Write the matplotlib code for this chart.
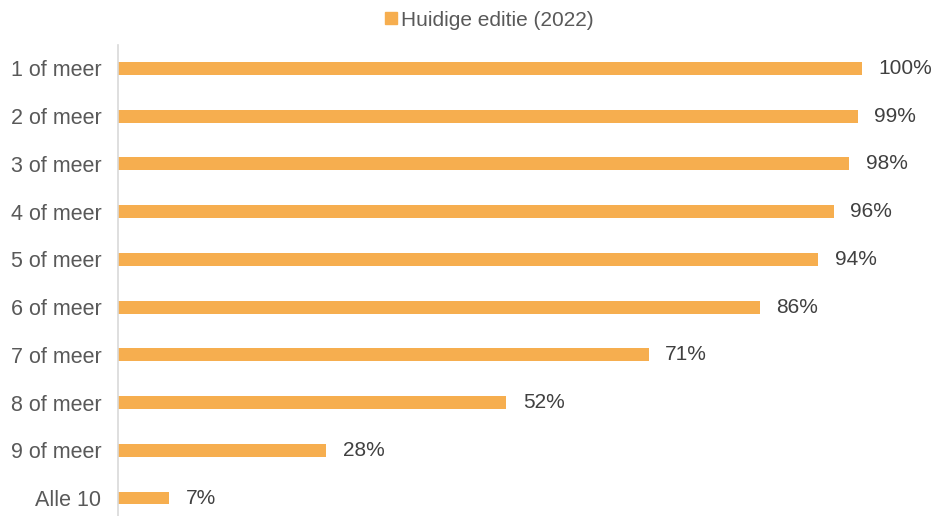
import matplotlib.pyplot as plt
from matplotlib.lines import Line2D

plt.rcParams['font.family'] = ['Liberation Sans', 'DejaVu Sans']

# Data
categorieen = ['1 of meer', '2 of meer', '3 of meer', '4 of meer', '5 of meer',
               '6 of meer', '7 of meer', '8 of meer', '9 of meer', 'Alle 10']
waarden = [100, 99.4, 98.3, 96.2, 94.1, 86.3, 71.3, 52.2, 28.0, 6.9]
reeks_naam = 'Huidige editie (2022)'

kleur = '#F6AE4F'
tekst_kleur = '#595959'

fig = plt.figure(figsize=(9.33, 5.16), dpi=100)
ax = fig.add_axes([0.1265, -0.0114, 0.7975, 0.925])

posities = list(range(len(categorieen)))
ax.barh(posities, waarden, height=0.27, color=kleur)

for p, v in zip(posities, waarden):
    ax.text(v + 2.2, p, f'{v:.0f}%', va='center', ha='left',
            fontsize=15, color='#404040')

ax.set_xlim(0, 100)
ax.set_ylim(len(categorieen) - 0.5, -0.5)
ax.set_yticks(posities)
ax.set_yticklabels(categorieen, fontsize=15.5, color=tekst_kleur)
ax.tick_params(axis='y', length=0, pad=12)
ax.set_xticks([])

for kant in ['top', 'right', 'bottom']:
    ax.spines[kant].set_visible(False)
ax.spines['left'].set_color('#D9D9D9')
ax.spines['left'].set_linewidth(1.2)

# Legenda boven
handle = Line2D([], [], marker='s', color='none', markerfacecolor=kleur,
                markeredgecolor=kleur, markersize=9)
fig.legend([handle], [reeks_naam], loc='center', bbox_to_anchor=(0.522, 0.961),
           frameon=False, fontsize=15, handletextpad=0.0, handlelength=1.0,
           labelcolor=tekst_kleur)

fig.savefig('out.png', dpi=100)
